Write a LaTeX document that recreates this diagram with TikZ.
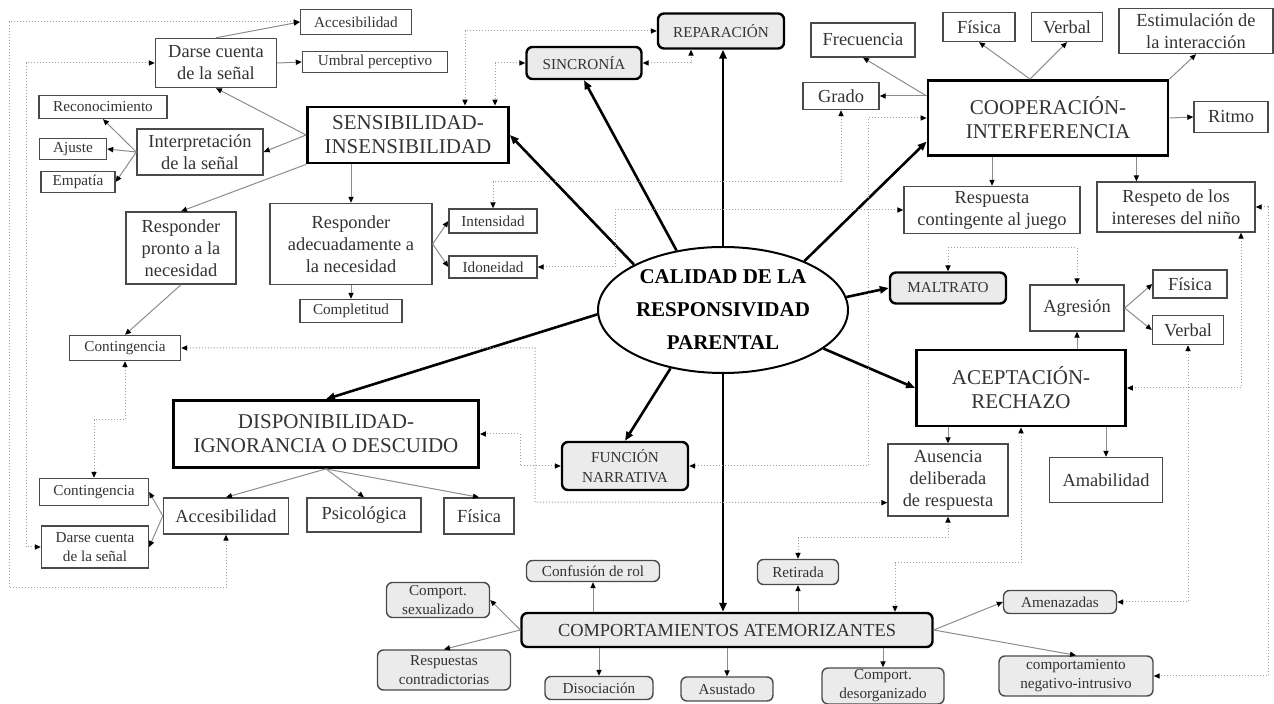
\documentclass[tikz,border=0pt]{standalone}
\usepackage{fontspec}
\setmainfont{Liberation Serif}
\usepackage{tikz}
\usetikzlibrary{calc,shapes.geometric,arrows.meta}
\definecolor{ink}{HTML}{333333}
\definecolor{edge}{HTML}{4A4A4A}
\definecolor{linkgray}{HTML}{8C8C8C}
\definecolor{dotgray}{HTML}{A0A0A0}
\definecolor{shade}{HTML}{EBEBEB}

\begin{document}
\begin{tikzpicture}[
  x=0.5pt,y=-0.5pt,
  sz/.style 2 args={minimum width=#1*0.5pt,minimum height=#2*0.5pt},
  base/.style={draw,inner sep=0pt,align=center,text=ink},
  mainbox/.style={base,draw=black,line width=1.4pt,font=\fontsize{10.5}{12}\selectfont},
  midbox/.style={base,draw=edge,line width=0.7pt,font=\fontsize{9.2}{11}\selectfont},
  smallbox/.style={base,draw=edge,line width=0.7pt,font=\fontsize{7.6}{9.5}\selectfont},
  headbox/.style={base,draw=black,fill=shade,line width=1.2pt,rounded corners=3pt,font=\fontsize{7.6}{10}\selectfont},
  itembox/.style={base,draw=edge,fill=shade,line width=0.7pt,rounded corners=3pt,font=\fontsize{7.6}{9.5}\selectfont},
  hub/.style={ellipse,draw,line width=1pt,inner sep=0pt,align=center,text=black,font=\fontsize{10.5}{16.5}\selectfont\bfseries},
  spoke/.style={-{Triangle[length=4.5pt,width=3.6pt]},line width=1.3pt},
  branch/.style={-{Triangle[length=3pt,width=2.6pt,color=black]},draw=linkgray,line width=0.5pt},
  crosslink/.style={{Triangle[length=3pt,width=2.6pt,color=black]}-{Triangle[length=3pt,width=2.6pt,color=black]},draw=dotgray,densely dotted,line width=0.5pt}
]
  \useasboundingbox (0,0) rectangle (1274,704);

  \node[hub,sz={250}{126}] (calidad) at (723,310) {CALIDAD DE LA\\RESPONSIVIDAD\\PARENTAL};

  \node[mainbox,sz={201}{56}] (sens) at (408,135) {SENSIBILIDAD-\\INSENSIBILIDAD};
  \node[smallbox,sz={111}{25}] (acc1) at (356,22) {Accesibilidad};
  \node[midbox,sz={121}{49}] (darse1) at (216,63) {Darse cuenta\\de la señal};
  \node[smallbox,sz={145}{21}] (umbral) at (375,62) {Umbral perceptivo};
  \node[smallbox,sz={128}{23}] (recon) at (103,107) {Reconocimiento};
  \node[midbox,sz={126}{46}] (interp) at (200,152) {Interpretación\\de la señal};
  \node[smallbox,sz={67}{21}] (ajuste) at (73,149) {Ajuste};
  \node[smallbox,sz={74}{21}] (empat) at (78,182) {Empatía};
  \node[midbox,sz={110}{72}] (pronto) at (181,248) {Responder\\pronto a la\\necesidad};
  \node[midbox,sz={162}{81}] (adec) at (351,244) {Responder\\adecuadamente a\\la necesidad};
  \node[smallbox,sz={88}{24}] (intens) at (493,221) {Intensidad};
  \node[smallbox,sz={88}{22}] (idon) at (493,267) {Idoneidad};
  \node[smallbox,sz={102}{23}] (complet) at (351,311) {Completitud};
  \node[smallbox,sz={111}{25}] (cont1) at (125,348) {Contingencia};

  \node[mainbox,sz={305}{67}] (disp) at (326,434) {DISPONIBILIDAD-\\IGNORANCIA O DESCUIDO};
  \node[smallbox,sz={109}{27}] (cont2) at (94,492) {Contingencia};
  \node[smallbox,sz={107}{42}] (darse2) at (95,547) {Darse cuenta\\de la señal};
  \node[midbox,sz={125}{36}] (acc2) at (226,516) {Accesibilidad};
  \node[midbox,sz={114}{34}] (psic) at (364,515) {Psicológica};
  \node[midbox,sz={70}{36}] (fis2) at (479,516) {Física};

  \node[headbox,sz={126}{35}] (rep) at (721,31) {REPARACIÓN};
  \node[headbox,sz={115}{32}] (sinc) at (584,63) {SINCRONÍA};

  \node[mainbox,sz={240}{75}] (coop) at (1048,118) {COOPERACIÓN-\\INTERFERENCIA};
  \node[midbox,sz={104}{34}] (freq) at (863,40) {Frecuencia};
  \node[midbox,sz={72}{29}] (fis1) at (979,27) {Física};
  \node[midbox,sz={71}{29}] (verb1) at (1067,27) {Verbal};
  \node[midbox,sz={154}{45}] (estim) at (1196,31) {Estimulación de\\la interacción};
  \node[midbox,sz={76}{27}] (grado) at (841,96) {Grado};
  \node[midbox,sz={74}{31}] (ritmo) at (1231,117) {Ritmo};
  \node[midbox,sz={176}{47}] (resp) at (992,210) {Respuesta\\contingente al juego};
  \node[midbox,sz={158}{50}] (respeto) at (1176,207) {Respeto de los\\intereses del niño};

  \node[headbox,sz={116}{31}] (malt) at (948,288) {MALTRATO};
  \node[mainbox,sz={209}{76}] (acep) at (1021,388) {ACEPTACIÓN-\\RECHAZO};
  \node[midbox,sz={94}{46}] (agres) at (1077,308) {Agresión};
  \node[midbox,sz={74}{28}] (fis3) at (1190,284) {Física};
  \node[midbox,sz={71}{29}] (verb3) at (1188,330) {Verbal};
  \node[midbox,sz={120}{72}] (ausen) at (948,480) {Ausencia\\deliberada\\de respuesta};
  \node[midbox,sz={113}{45}] (amab) at (1106,480) {Amabilidad};

  \node[headbox,sz={126}{48}] (func) at (625,466) {FUNCIÓN\\NARRATIVA};
  \node[headbox,sz={411}{34},font=\fontsize{9.2}{11}\selectfont] (comp) at (727,630) {COMPORTAMIENTOS ATEMORIZANTES};
  \node[itembox,sz={133}{21}] (conf) at (593,571) {Confusión de rol};
  \node[itembox,sz={81}{25}] (retir) at (798,572) {Retirada};
  \node[itembox,sz={103}{35}] (sexu) at (438,600) {Comport.\\sexualizado};
  \node[itembox,sz={133}{40}] (respu) at (444,670) {Respuestas\\contradictorias};
  \node[itembox,sz={108}{23}] (disoc) at (599,688) {Disociación};
  \node[itembox,sz={92}{24}] (asust) at (727,689) {Asustado};
  \node[itembox,sz={122}{36}] (desorg) at (883,686) {Comport.\\desorganizado};
  \node[itembox,sz={113}{23}] (amen) at (1060,602) {Amenazadas};
  \node[itembox,sz={154}{40}] (negat) at (1076,676) {comportamiento\\negativo-intrusivo};

  \draw[spoke] (calidad.153) -- (sens.east);
  \draw[spoke] (calidad.128) -- (sinc.south);
  \draw[spoke] (calidad.north) -- (calidad.north |- rep.south);
  \draw[spoke] (calidad.31) -- (coop.191);
  \draw[spoke] (calidad.6) -- (malt.west);
  \draw[spoke] (calidad.339) -- (acep.west);
  \draw[spoke] (calidad.south) -- (calidad.south |- comp.north);
  \draw[spoke] (calidad.228) -- (func.north);
  \draw[spoke] (calidad.182) -- (disp.north);

  \draw[branch] (sens.west) -- (darse1.south);
  \draw[branch] (sens.west) -- (interp.east);
  \draw[branch] (sens.south west) -- (pronto.north);
  \draw[branch] (sens.south -| adec.north) -- (adec.north);
  \draw[branch] (darse1.north) -- (acc1.west);
  \draw[branch] (darse1.east) -- (umbral.west);
  \draw[branch] (interp.west) -- (recon.south);
  \draw[branch] (interp.west) -- (ajuste.east);
  \draw[branch] (interp.west) -- (empat.east);
  \draw[branch] (adec.east) -- (intens.west);
  \draw[branch] (adec.east) -- (idon.west);
  \draw[branch] (adec.south) -- (complet.north);
  \draw[branch] (pronto.south) -- (cont1.north);
  \draw[branch] (disp.south) -- (acc2.north);
  \draw[branch] (disp.south) -- (psic.north);
  \draw[branch] (disp.south) -- (fis2.north);
  \draw[branch] (acc2.west) -- (cont2.east);
  \draw[branch] (acc2.west) -- (darse2.east);
  \draw[branch] (coop.west |- grado.east) -- (freq.south);
  \draw[branch] (coop.west |- grado.east) -- (grado.east);
  \draw[branch] ([xshift=-9pt]coop.north) -- (fis1.south);
  \draw[branch] ([xshift=-9pt]coop.north) -- (verb1.south);
  \draw[branch] (coop.north east) -- (estim.south);
  \draw[branch] (coop.east) -- (ritmo.west);
  \draw[branch] (coop.south -| resp.north) -- (resp.north);
  \draw[branch] ([xshift=-16.5pt]coop.south east) -- ([xshift=-16.5pt]coop.south east |- respeto.north);
  \draw[branch] (acep.north -| agres.south) -- (agres.south);
  \draw[branch] (agres.east) -- (fis3.west);
  \draw[branch] (agres.east) -- (verb3.west);
  \draw[branch] (acep.south -| ausen.north) -- (ausen.north);
  \draw[branch] (acep.south -| amab.north) -- (amab.north);
  \draw[branch] (comp.north -| conf.south) -- (conf.south);
  \draw[branch] (comp.north -| retir.south) -- (retir.south);
  \draw[branch] (comp.west) -- (sexu.east);
  \draw[branch] (comp.west) -- (respu.north);
  \draw[branch] (comp.south -| disoc.north) -- (disoc.north);
  \draw[branch] (comp.south -| asust.north) -- (asust.north);
  \draw[branch] (comp.south -| desorg.north) -- (desorg.north);
  \draw[branch] (comp.east) -- (amen.west);
  \draw[branch] (comp.east) -- (negat.north);

  \draw[crosslink] (acc1.west) -| (9,588) -| (acc2.south);
  \draw[crosslink] (darse1.west) -| (26,547) -- (darse2.west);
  \draw[crosslink] (cont1.south) |- (94,420) -- (cont2.north);
  \draw[crosslink] (cont1.east) -| (535,502) -- ($(ausen.south west)+(0,-14)$);
  \draw[crosslink] (func.west) -| (520,434) -- (disp.east);
  \draw[crosslink] (func.east) -| (868,118) -- (coop.west);
  \draw[crosslink] (grado.south) |- (493,182) -- (intens.north);
  \draw[crosslink] (idon.east) -| (615,210) -- (resp.west);
  \draw[crosslink] (rep.west) -| ([xshift=28.5pt]sens.north);
  \draw[crosslink] (sinc.west) -| ([xshift=43.5pt]sens.north);
  \draw[crosslink] (sinc.east) -| ([xshift=-15pt]rep.south);
  \draw[crosslink] (malt.north) |- (1077,248) -- (agres.north);
  \draw[crosslink] ([xshift=32.5pt]respeto.south) |- (acep.east);
  \draw[crosslink] (respeto.east) -| (1268,676) -- (negat.east);
  \draw[crosslink] (verb3.south) |- (amen.east);
  \draw[crosslink] (acep.south) |- (895,563) -- ([xshift=84pt]comp.north);
  \draw[crosslink] (retir.north) |- (948,538) -- (ausen.south);
\end{tikzpicture}
\end{document}
